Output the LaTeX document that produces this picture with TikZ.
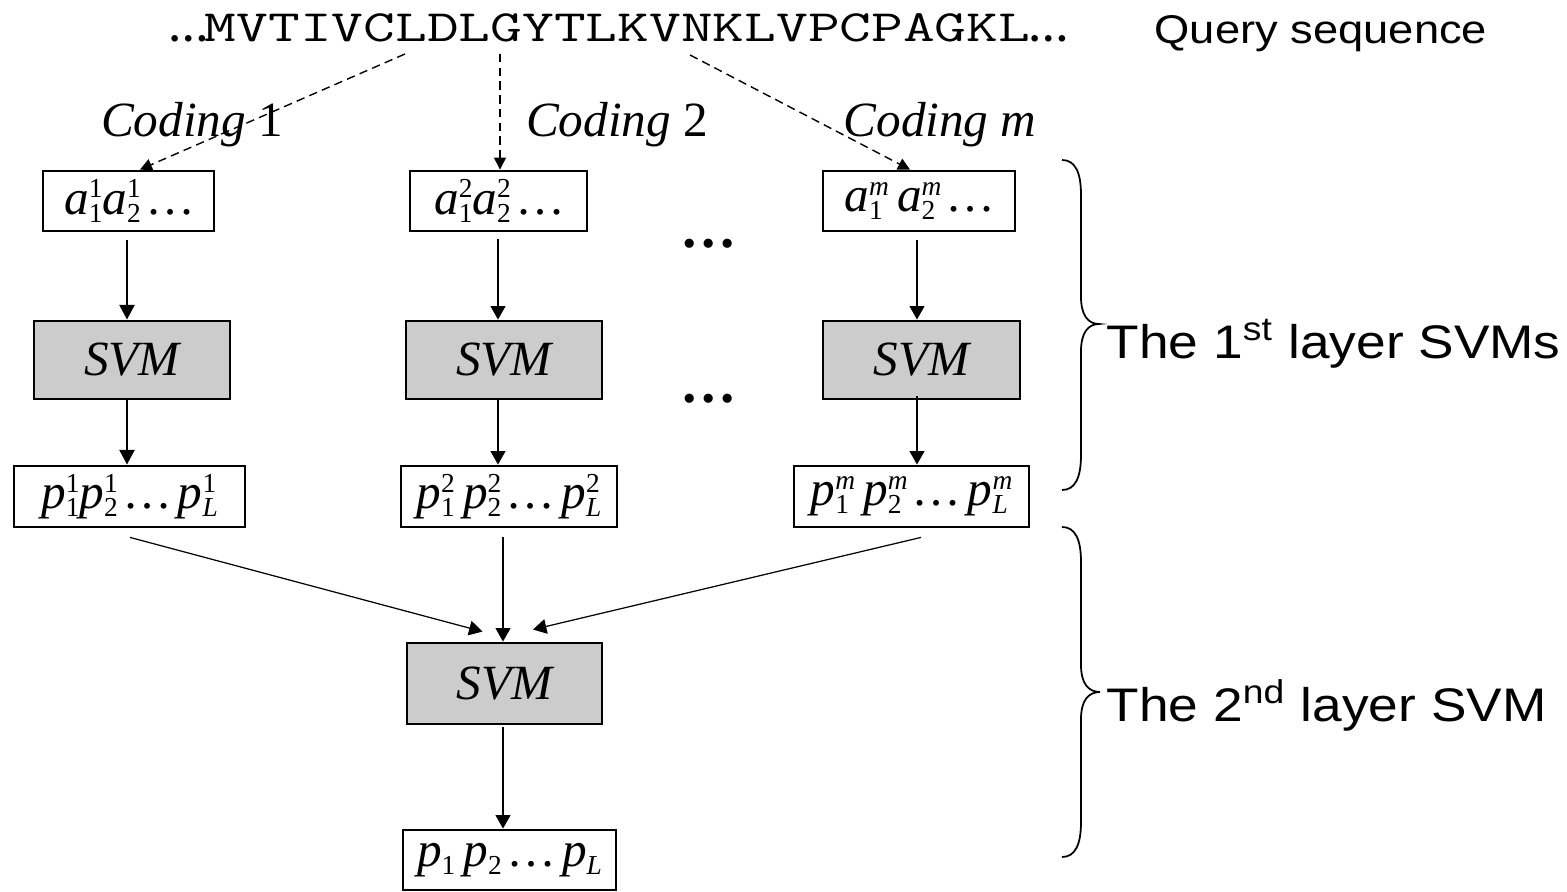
\documentclass[tikz,border=0pt]{standalone}
\usepackage{fontspec}
\usepackage{graphicx}
\usetikzlibrary{arrows.meta,calc}
\setmainfont{Liberation Serif}
\newfontfamily\labelsans{Liberation Sans}[FakeStretch=1.13]
\definecolor{svmfill}{RGB}{204,204,204}

% italic letter indices: superscript stacked over subscript
\newdimen\sswd
\newcommand\SupSub[2]{%
  \setbox0=\hbox{\fontsize{7.8}{9}\selectfont\upshape #1}%
  \setbox2=\hbox{\fontsize{7.8}{9}\selectfont\upshape #2}%
  \sswd=\wd0 \ifdim\wd2>\sswd \sswd=\wd2 \fi
  \hbox to \sswd{\rlap{\raise4.7pt\box0}\lower2.2pt\box2\hss}}
\newcommand\seqdots{{\fontsize{11.5}{12}\selectfont\bfseries …}}

\tikzset{
  vecbox/.style={draw, line width=0.8pt, inner sep=0pt,
    font=\fontsize{14}{16}\selectfont\itshape},
  svmbox/.style={draw, fill=svmfill, line width=0.8pt, inner sep=0pt,
    font=\fontsize{14}{16}\selectfont\itshape},
  thinarrow/.style={-{Triangle[length=3.8pt,width=4.2pt]}, line width=0.35pt},
  thickarrow/.style={-{Triangle[length=4.2pt,width=4.3pt]}, line width=0.65pt},
  codearrow/.style={-{Triangle[length=3.4pt,width=3.4pt]}, line width=0.4pt,
    dash pattern=on 2.4pt off 1.5pt},
  bracepath/.style={line width=0.5pt},
  plainlabel/.style={inner sep=0pt, font=\fontsize{14}{16}\selectfont},
  sidelabel/.style={inner sep=0pt, anchor=base west},
}

\begin{document}
\begin{tikzpicture}[x=0.01cm,y=-0.01cm]
\useasboundingbox (0,0) rectangle (1567,892);

% query sequence and its label
\node[anchor=base west, inner sep=0pt] (seq) at (168,42)
  {\seqdots\kern-1.2pt\scalebox{1.38}[1]{\fontsize{12.7}{14}\selectfont\ttfamily MVTIVCLDLGYTLKVNKLVPCPAGKL}\kern-0.6pt\seqdots};
\node[sidelabel, font=\labelsans\fontsize{11.4}{13}\selectfont] (qlab) at (1154,44) {Query sequence};

% coding names
\node[plainlabel, anchor=base] (cod1) at (192,137) {\textit{Coding} 1};
\node[plainlabel, anchor=base] (cod2) at (617,137) {\textit{Coding} 2};
\node[plainlabel, anchor=base] (codm) at (940,137) {\textit{Coding m}};

% column axes
\coordinate (col1) at (127,0);
\coordinate (col2) at (498,0);
\coordinate (col2b) at (503,0);
\coordinate (colm) at (917,0);

% encoded vectors
\node[vecbox, minimum width=1.71cm, minimum height=0.60cm] (a1) at (128.5,201)
  {a\SupSub{1}{1}a\SupSub{1}{2}\,…};
\node[vecbox, minimum width=1.77cm, minimum height=0.60cm] (a2) at (498.5,201)
  {a\SupSub{2}{1}a\SupSub{2}{2}\,…};
\node[vecbox, minimum width=1.92cm, minimum height=0.60cm] (am) at (919,201)
  {a\SupSub{\itshape m}{1}\,a\SupSub{\itshape m}{2}\,…};

% first layer classifiers
\node[svmbox, minimum width=1.96cm, minimum height=0.78cm] (S1) at (132,360) {SVM};
\node[svmbox, minimum width=1.96cm, minimum height=0.78cm] (S2) at (504,360) {SVM};
\node[svmbox, minimum width=1.97cm, minimum height=0.78cm] (Sm) at (921.5,360) {SVM};

% first layer outputs
\node[vecbox, minimum width=2.31cm, minimum height=0.61cm] (p1) at (129.5,496.5)
  {p\SupSub{1}{1}p\SupSub{1}{2}\,…\,p\SupSub{1}{\itshape L}};
\node[vecbox, minimum width=2.16cm, minimum height=0.61cm] (p2) at (509,496.5)
  {p\SupSub{2}{1}\,p\SupSub{2}{2}\,…\,p\SupSub{2}{\itshape L}};
\node[vecbox, minimum width=2.35cm, minimum height=0.61cm] (pm) at (911.5,496.5)
  {p\SupSub{\itshape m}{1}\,p\SupSub{\itshape m}{2}\,…\,p\SupSub{\itshape m}{\itshape L}};

% second layer classifier and final output
\node[svmbox, minimum width=1.95cm, minimum height=0.81cm] (S) at (504.5,683.5) {SVM};
\node[vecbox, minimum width=2.13cm, minimum height=0.60cm] (out) at (509.5,860)
  {p\SupSub{}{1}\,p\SupSub{}{2}\,…\,p\SupSub{}{\itshape L}};

% ellipses between columns
\node[plainlabel, anchor=base, font=\fontsize{16}{18}\selectfont\bfseries] (dots1) at (709,248) {…};
\node[plainlabel, anchor=base, font=\fontsize{16}{18}\selectfont\bfseries] (dots2) at (709,403) {…};

% sequence to encodings
\coordinate (s1) at (405,54);
\coordinate (s2) at (500,54);
\coordinate (s3) at (690,55);
\draw[codearrow] (s1) -- ([xshift=0.115cm]a1.north);
\draw[codearrow] (s2) -- (a2.north -| s2);
\draw[codearrow] (s3) -- ([xshift=-0.09cm]am.north);

% first layer flow
\draw[thickarrow] (a1.south -| col1) ++(0,8) -- (S1.north -| col1);
\draw[thickarrow] (S1.south -| col1) -- (p1.north -| col1);
\draw[thinarrow] (a2.south -| col2) ++(0,7) -- (S2.north -| col2);
\draw[thinarrow] (S2.south -| col2) -- (p2.north -| col2);
\draw[thinarrow] (am.south -| colm) ++(0,8) -- (Sm.north -| colm);
\draw[thinarrow] (Sm.south -| colm) ++(0,-4) -- (pm.north -| colm);

% into the second layer
\draw[thinarrow] ($(p1.south)+(0.5,9)$) -- ($(S.north)+(-22,-10)$);
\draw[thinarrow] (p2.south -| col2b) ++(0,9) -- (S.north -| col2b);
\draw[thinarrow] ($(pm.south)+(9.5,9)$) -- ($(S.north)+(28.5,-12)$);
\draw[thinarrow] (S.south -| col2b) ++(0,2) -- (out.north -| col2b);

% braces
\draw[bracepath] (1062,160) .. controls (1075,160) and (1081,172) .. (1081,195)
  -- (1081,297) .. controls (1081,315) and (1088,324) .. (1099,324)
  .. controls (1088,324) and (1081,333) .. (1081,351)
  -- (1081,455) .. controls (1081,478) and (1075,490) .. (1062,490);
\draw[bracepath] (1062,527) .. controls (1075,527) and (1081,539) .. (1081,562)
  -- (1081,665) .. controls (1081,683) and (1088,692) .. (1100,692)
  .. controls (1088,692) and (1081,701) .. (1081,719)
  -- (1081,822) .. controls (1081,845) and (1075,857) .. (1062,857);

\node[sidelabel, font=\labelsans\fontsize{13.4}{15}\selectfont] (lay1) at (1106,359)
  {The 1\textsuperscript{st} layer SVMs};
\node[sidelabel, font=\labelsans\fontsize{13.4}{15}\selectfont] (lay2) at (1106,722)
  {The 2\textsuperscript{nd} layer SVM};
\end{tikzpicture}
\end{document}
